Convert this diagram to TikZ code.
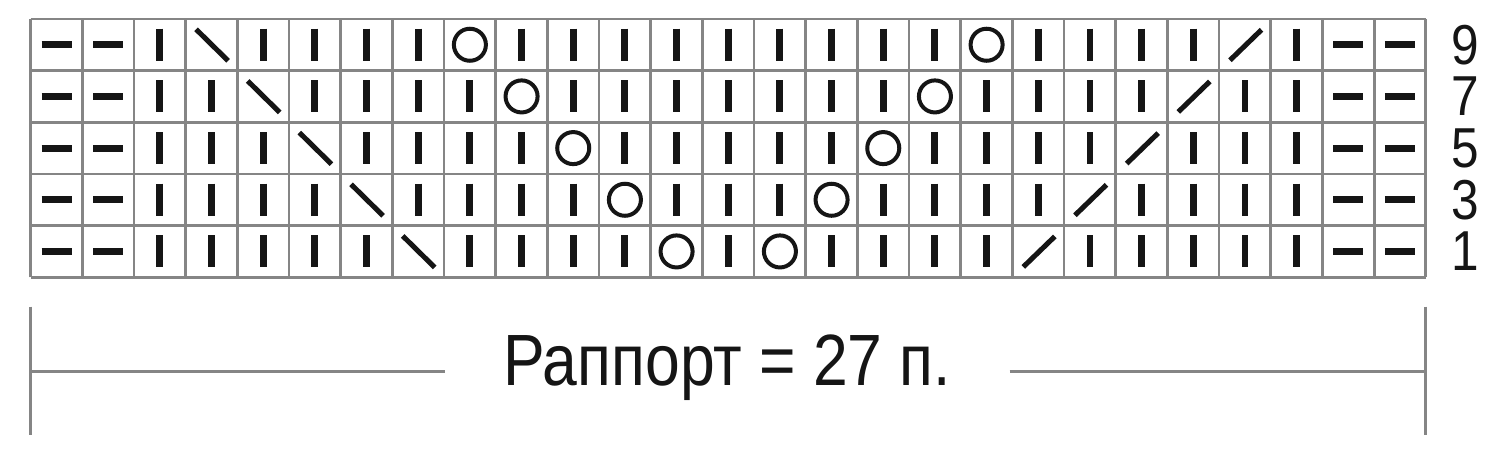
\documentclass[tikz,border=0pt]{standalone}
\usepackage{fontspec}
\setmainfont{Liberation Sans}
\begin{document}
\begin{tikzpicture}
\definecolor{gridcol}{HTML}{858585}
\definecolor{inkcol}{HTML}{151515}
\useasboundingbox (-0.594, -8.343) rectangle (28.436, 0.366);
\fill[white] (-0.594, -8.343) rectangle (28.436, 0.366);
\draw[gridcol, line width = 1.5pt] (0, 0) grid (27, -5);
\foreach \r/\lab in {0/9, 1/7, 2/5, 3/3, 4/1} {
  \pgfmathtruncatemacro{\dl}{4 + \r}
  \pgfmathtruncatemacro{\yl}{9 + \r}
  \pgfmathtruncatemacro{\yr}{19 - \r}
  \pgfmathtruncatemacro{\dr}{24 - \r}
  \foreach \c in {1, 2, 26, 27}
    \draw[inkcol, line width = 3.8pt] (\c - 0.79, -\r - 0.5) -- (\c - 0.21, -\r - 0.5);
  \foreach \c in {3, ..., 25} {
    \pgfmathtruncatemacro{\sp}{(\c == \dl) || (\c == \yl) || (\c == \yr) || (\c == \dr)}
    \ifnum\sp=0
      \draw[inkcol, line width = 3.8pt] (\c - 0.5, -\r - 0.19) -- (\c - 0.5, -\r - 0.81);
    \fi
  }
  \draw[inkcol, line width = 2.8pt] (\dl - 0.8, -\r - 0.2) -- (\dl - 0.18, -\r - 0.81);
  \draw[inkcol, line width = 2.2pt] (\yl - 0.5, -\r - 0.5) circle (0.31);
  \draw[inkcol, line width = 2.2pt] (\yr - 0.5, -\r - 0.5) circle (0.31);
  \draw[inkcol, line width = 2.8pt] (\dr - 0.79, -\r - 0.8) -- (\dr - 0.18, -\r - 0.21);
  \node[text = inkcol, font = \fontsize{31}{31}\selectfont, xscale = 0.88, inner sep = 0pt] (row\lab) at (27.76, -\r - 0.5) {\lab};
}
\coordinate (tickl) at (0, -6.815);
\coordinate (tickr) at (27, -6.815);
\draw[gridcol, line width = 1.7pt] (0, -5.57) -- (0, -8.05);
\draw[gridcol, line width = 1.7pt] (27, -5.57) -- (27, -8.05);
\node[anchor = base, text = inkcol, font = \fontsize{40}{40}\selectfont, xscale = 0.86, inner xsep = 1.31cm] (rapport) at (13.48, -7.085) {Раппорт = 27 п.};
\draw[gridcol, line width = 1.7pt] (tickl) -- (tickl -| rapport.west);
\draw[gridcol, line width = 1.7pt] (tickr -| rapport.east) -- (tickr);
\end{tikzpicture}
\end{document}
